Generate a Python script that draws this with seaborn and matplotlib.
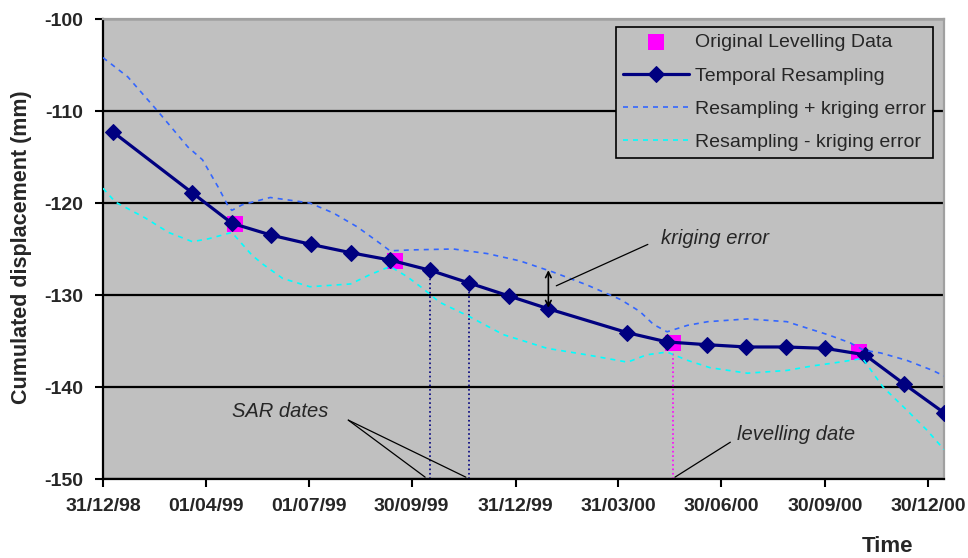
import pandas as pd
import seaborn as sns
import matplotlib.pyplot as plt
import matplotlib.dates as mdates

# Temporal resampling on the 35-day SAR cycle
resamp_dates = ["1999-01-09", "1999-03-20", "1999-04-24", "1999-05-29", "1999-07-03",
                "1999-08-07", "1999-09-11", "1999-10-16", "1999-11-20", "1999-12-25",
                "2000-01-29", "2000-04-08", "2000-05-13", "2000-06-17", "2000-07-22",
                "2000-08-26", "2000-09-30", "2000-11-04", "2000-12-09", "2001-01-13"]
resamp_vals = [-112.3, -118.9, -122.2, -123.5, -124.5, -125.4, -126.2, -127.3, -128.7, -130.1,
               -131.5, -134.1, -135.1, -135.4, -135.65, -135.65, -135.8, -136.5, -139.7, -142.8]

# Original levelling campaigns
level_dates = ["1999-04-27", "1999-09-15", "2000-05-18", "2000-10-30"]
level_vals = [-122.3, -126.3, -135.2, -136.2]

# kriging envelope (days after 31/12/98)
plus_days = [0, 22, 49, 75, 88, 102, 111, 114, 123, 148, 183, 204, 225, 243, 254, 272, 310,
             340, 369, 398, 428, 458, 475, 487, 499, 517, 535, 570, 605, 628, 641, 661, 673,
             688, 711, 734, 744]
plus_vals = [-104.2, -106.3, -110.1, -113.9, -115.3, -118.3, -120.4, -120.8, -120.2, -119.4,
             -120.0, -121.1, -122.6, -124.2, -125.2, -125.1, -125.0, -125.5, -126.3, -127.5,
             -128.9, -130.5, -131.8, -133.2, -134.0, -133.3, -132.9, -132.6, -132.9, -133.8,
             -134.3, -135.2, -136.0, -136.3, -137.1, -138.2, -138.8]
minus_days = [0, 11, 37, 58, 79, 93, 111, 114, 132, 142, 159, 183, 219, 236, 254, 269, 282,
              298, 325, 354, 393, 428, 464, 481, 499, 517, 537, 570, 605, 628, 646, 672, 690,
              711, 729, 744]
minus_vals = [-118.4, -119.9, -121.6, -123.2, -124.2, -123.9, -123.3, -123.2, -125.7, -126.7,
              -128.2, -129.1, -128.8, -127.8, -126.9, -128.0, -129.2, -130.8, -132.4, -134.3,
              -135.8, -136.5, -137.3, -136.5, -136.2, -137.1, -137.9, -138.5, -138.2, -137.7,
              -137.4, -136.9, -140.0, -142.5, -144.7, -146.8]

sar_dates = ["1999-10-16", "1999-11-20"]
levelling_date = "2000-05-18"

tick_dates = ["1998-12-31", "1999-04-01", "1999-07-01", "1999-09-30", "1999-12-31",
              "2000-03-31", "2000-06-30", "2000-09-30", "2000-12-30"]
tick_labels = ["31/12/98", "01/04/99", "01/07/99", "30/09/99", "31/12/99",
               "31/03/00", "30/06/00", "30/09/00", "30/12/00"]

origin = pd.Timestamp("1998-12-31")


def day(n):
    return mdates.date2num(origin + pd.Timedelta(days=n))


res = pd.DataFrame({"date": pd.to_datetime(resamp_dates), "value": resamp_vals})
lev = pd.DataFrame({"date": pd.to_datetime(level_dates), "value": level_vals})
plus = pd.DataFrame({"date": origin + pd.to_timedelta(plus_days, unit="D"), "value": plus_vals})
minus = pd.DataFrame({"date": origin + pd.to_timedelta(minus_days, unit="D"), "value": minus_vals})

sns.set_style("ticks", {"axes.facecolor": "#C0C0C0"})
plt.rcParams["font.family"] = ["Liberation Sans", "DejaVu Sans"]
plt.rcParams["axes.unicode_minus"] = False

fig = plt.figure(figsize=(9.68, 5.58), dpi=100)
ax = fig.add_axes([103 / 968, 1 - 479 / 558, 841 / 968, 460 / 558])

# dotted date markers
res_idx = res.set_index("date")["value"]
for d in sar_dates:
    ax.vlines(mdates.date2num(pd.Timestamp(d)), -150, res_idx[pd.Timestamp(d)],
              colors="#000080", linestyles=":", lw=1.2, zorder=2)
lev_idx = lev.set_index("date")["value"]
ax.vlines(mdates.date2num(pd.Timestamp(levelling_date)), -150, lev_idx[pd.Timestamp(levelling_date)],
          colors="#FF00FF", linestyles=":", lw=1.2, zorder=2)

sns.scatterplot(data=lev, x="date", y="value", marker="s", s=140, color="#FF00FF",
                linewidth=0, ax=ax, label="Original Levelling Data", zorder=3)
sns.lineplot(data=res, x="date", y="value", color="#000080", lw=2.3, marker="D",
             markersize=8, markeredgecolor="#000080", ax=ax, label="Temporal Resampling", zorder=4)
sns.lineplot(data=plus, x="date", y="value", color="#3366FF", lw=1.2, linestyle=(0, (3, 3)),
             ax=ax, label="Resampling + kriging error", zorder=5)
sns.lineplot(data=minus, x="date", y="value", color="#00FFFF", lw=1.2, linestyle=(0, (3, 3)),
             ax=ax, label="Resampling - kriging error", zorder=5)

ax.set_xlim(origin, pd.Timestamp("2001-01-13"))
ax.set_ylim(-150, -100)
ax.set_yticks(range(-150, -99, 10))
ax.set_xticks(pd.to_datetime(tick_dates))
ax.set_xticklabels(tick_labels)
ax.set_xlabel("")
ax.set_ylabel("")
ax.tick_params(direction="out", length=6, width=1.5, labelsize=14, pad=8, color="black")
for lbl in ax.get_xticklabels() + ax.get_yticklabels():
    lbl.set_fontweight("bold")

ax.yaxis.grid(True, color="black", lw=1.6)
ax.xaxis.grid(False)
for side in ["left", "bottom"]:
    ax.spines[side].set_color("black")
    ax.spines[side].set_linewidth(1.6)
for side in ["top", "right"]:
    ax.spines[side].set_color("#A0A0A0")
    ax.spines[side].set_linewidth(1.6)
    ax.spines[side].set_visible(True)

# annotations
ax.annotate("", xy=(day(394), -131.7), xytext=(day(394), -127.0),
            arrowprops=dict(arrowstyle="<->", color="black", lw=1.2), zorder=6)
ax.plot([day(401), day(482)], [-129.0, -124.5], color="black", lw=0.9, zorder=6)
ax.text(day(494), -123.9, "kriging error", fontsize=14.5, style="italic", va="center", ha="left")

ax.plot([day(217), day(285)], [-143.6, -149.8], color="black", lw=0.9, zorder=6)
ax.plot([day(217), day(321)], [-143.6, -149.8], color="black", lw=0.9, zorder=6)
ax.text(day(114), -142.7, "SAR dates", fontsize=14.5, style="italic", va="center", ha="left")

ax.plot([day(555), day(506)], [-146.0, -149.8], color="black", lw=0.9, zorder=6)
ax.text(day(561), -145.2, "levelling date", fontsize=14.5, style="italic", va="center", ha="left")

leg = ax.legend(loc="upper right", bbox_to_anchor=(933 / 968, 1 - 27 / 558),
                bbox_transform=fig.transFigure, fontsize=14, frameon=True, fancybox=False,
                framealpha=1, edgecolor="black", handlelength=3.4, handletextpad=0.3,
                labelspacing=0.8, borderpad=0.35, borderaxespad=0)
leg.get_frame().set_linewidth(1.2)

fig.text(22 / 968, 1 - 247 / 558, "Cumulated displacement (mm)", rotation=90,
         fontsize=15.5, fontweight="bold", ha="center", va="center")
fig.text(887 / 968, 1 - 547 / 558, "Time", fontsize=16, fontweight="bold",
         ha="center", va="center")

fig.savefig("out.png", dpi=100)
